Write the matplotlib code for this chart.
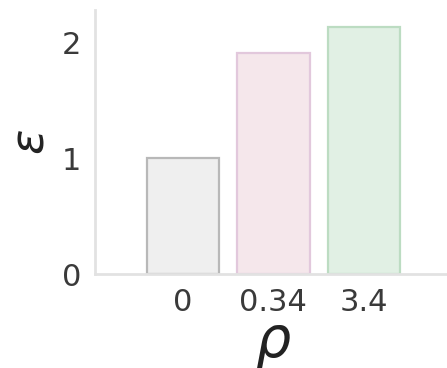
import matplotlib
matplotlib.use('Agg')
import matplotlib.pyplot as plt

# values per rho setting
rho_labels = ['0', '0.34', '3.4']
eps_values = [1.0, 1.91, 2.13]
fill_colors = ['#efefef', '#f5e7eb', '#e1f0e4']
edge_colors = ['#b8b8b8', '#e2c8dc', '#bcdcc2']

fig = plt.figure(figsize=(4.47, 3.68), dpi=100)
ax = fig.add_axes([0.2125, 0.255, 0.80, 0.718])

x = range(len(rho_labels))
ax.bar(x, eps_values, width=0.8, color=fill_colors, edgecolor=edge_colors, linewidth=1.6)

ax.set_xlim(-0.97, 2.98)
ax.set_ylim(0, 2.28)
ax.set_yticks([0, 1, 2])
ax.set_xticks(list(x))
ax.set_xticklabels(rho_labels)
ax.tick_params(length=0, labelsize=22, labelcolor='#3a3a3a', pad=10)

for side in ['top', 'right']:
    ax.spines[side].set_visible(False)
for side in ['left', 'bottom']:
    ax.spines[side].set_color('#e2e2e2')
    ax.spines[side].set_linewidth(2)

ax.set_ylabel(r'$\epsilon$', fontsize=34, color='#222222', labelpad=6)
ax.set_xlabel(r'$\rho$', fontsize=40, color='#222222', labelpad=0)

fig.savefig('out.png', dpi=100)
